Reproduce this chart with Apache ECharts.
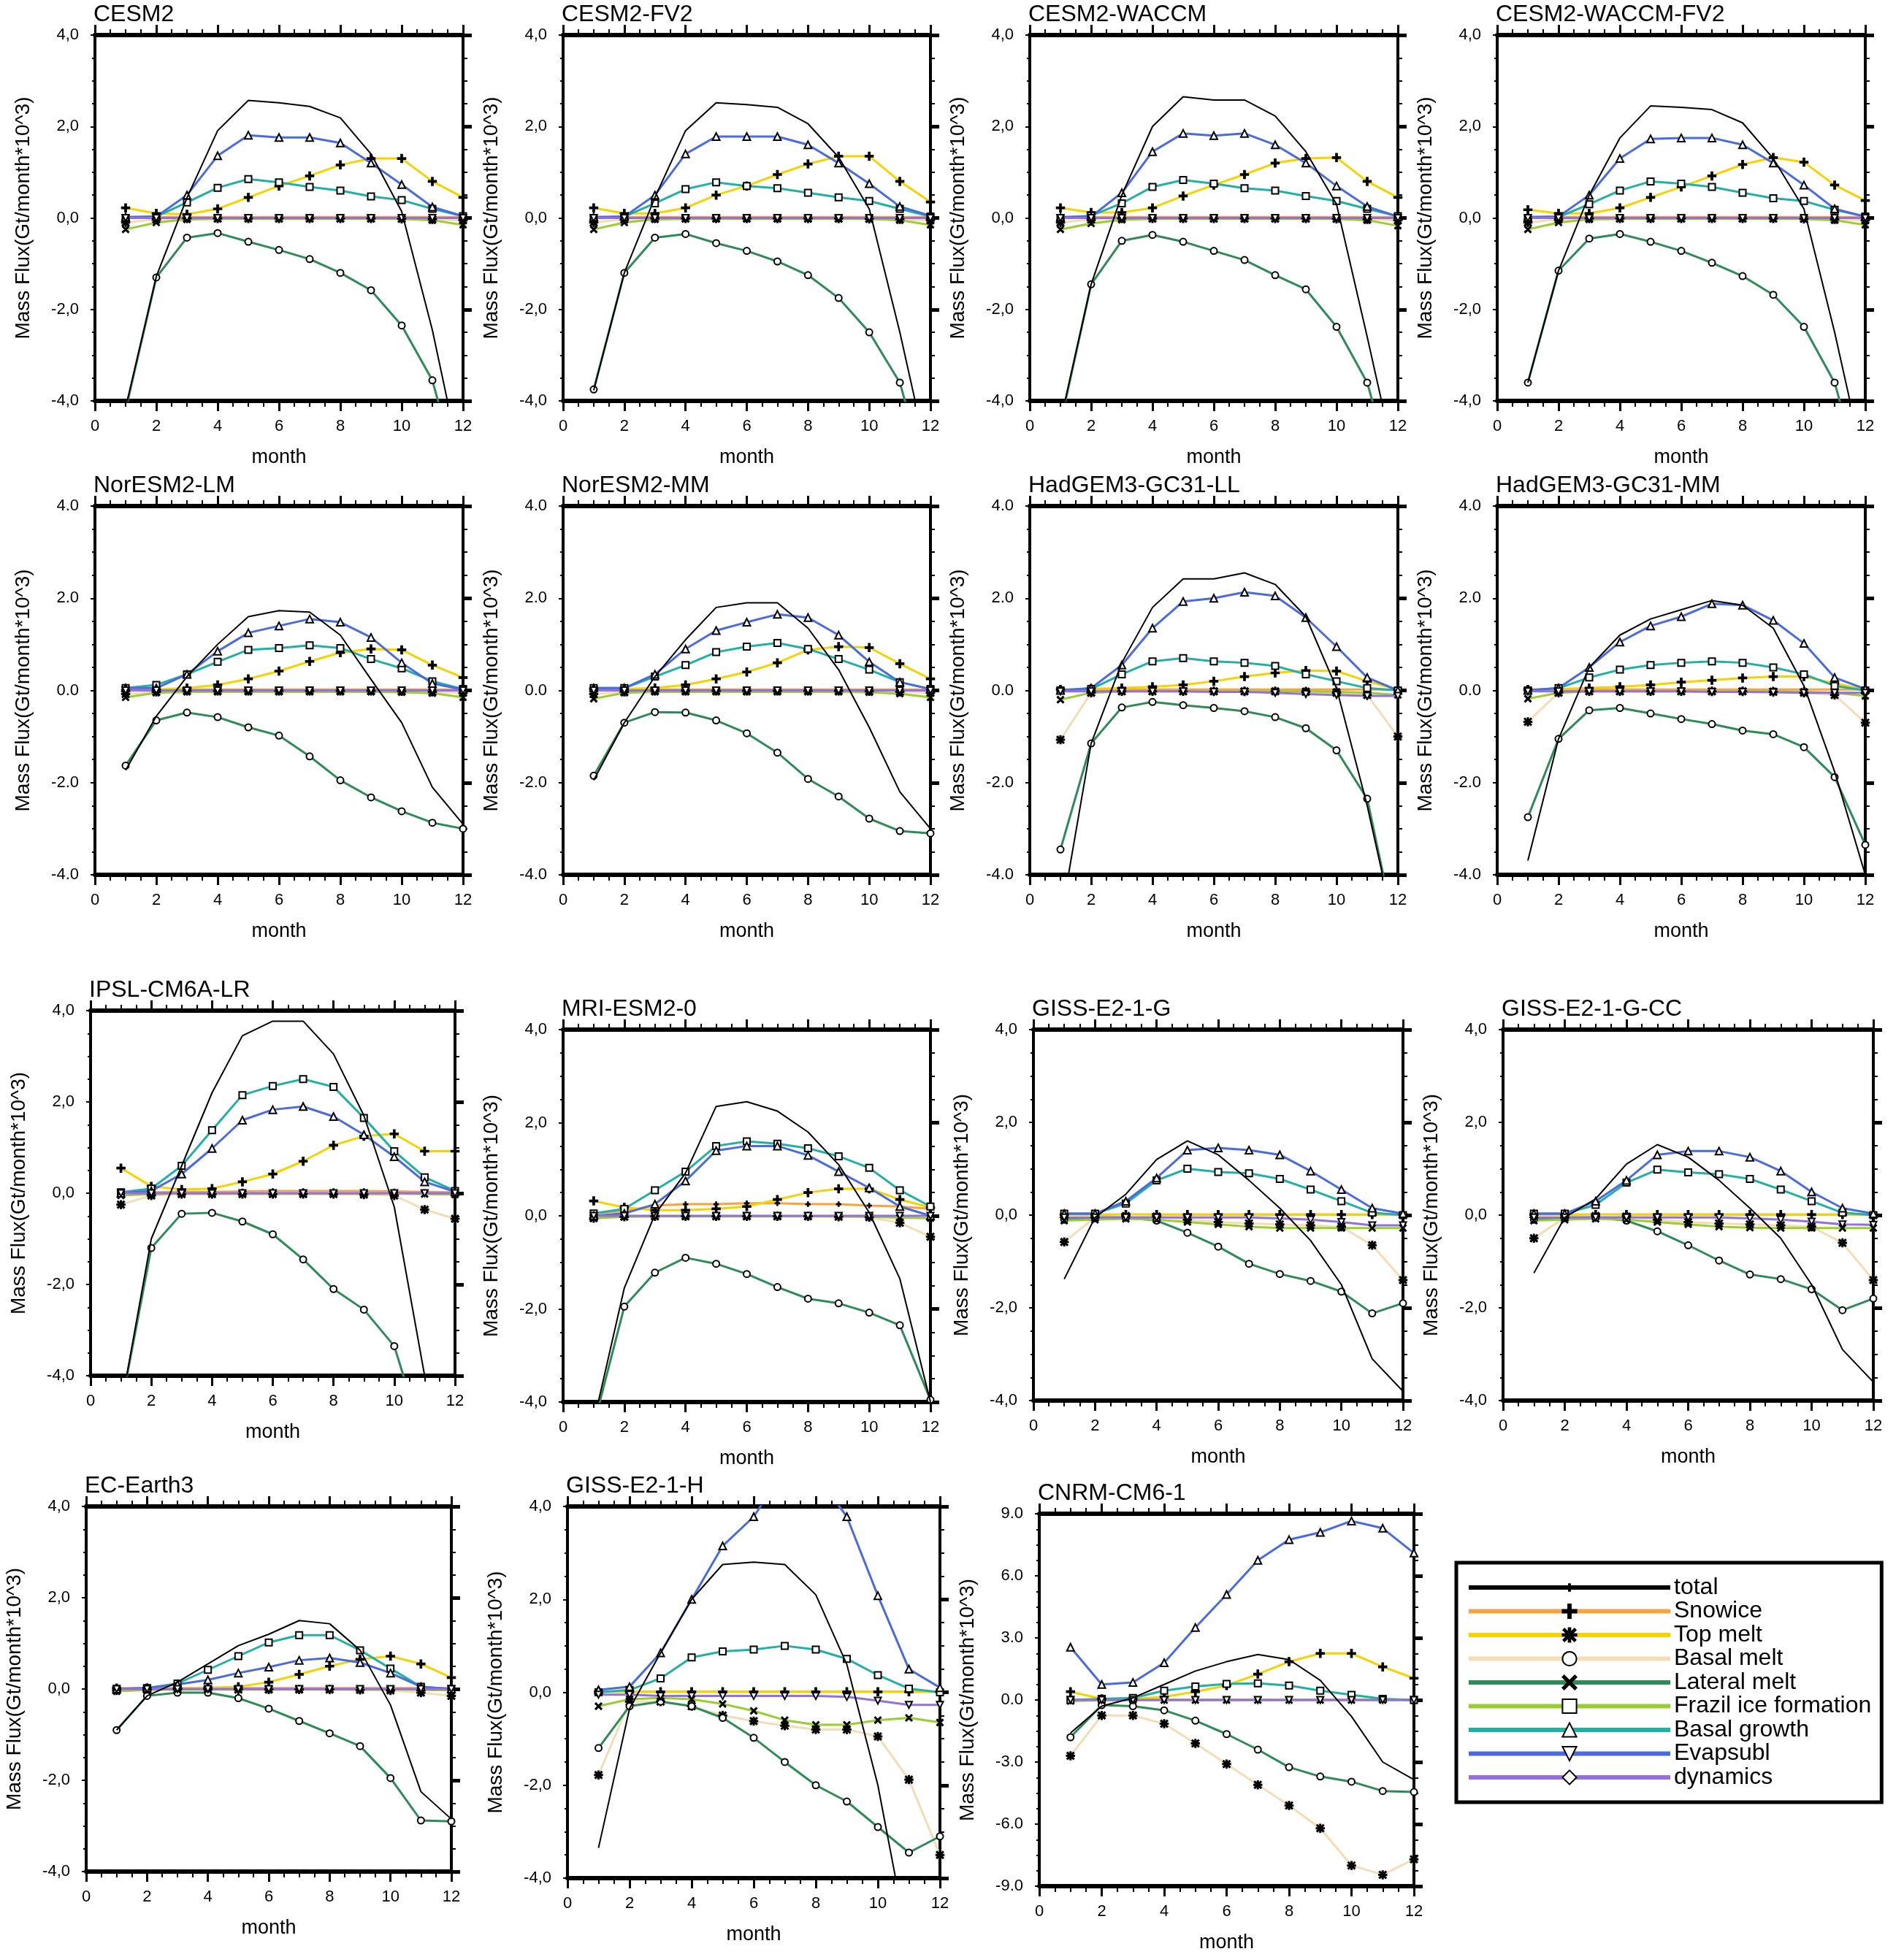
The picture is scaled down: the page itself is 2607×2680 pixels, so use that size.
<!DOCTYPE html>
<html><head><meta charset="utf-8">
<script src="https://cdn.jsdelivr.net/npm/echarts@6/dist/echarts.min.js"></script>
<style>html,body{margin:0;padding:0;background:#fff}#c{width:2607px;height:2680px}</style>
</head><body><div id="c"></div>
<script>
const months = [1,2,3,4,5,6,7,8,9,10,11,12];
const models = ['CESM2','CESM2-FV2','CESM2-WACCM','CESM2-WACCM-FV2','NorESM2-LM','NorESM2-MM','HadGEM3-GC31-LL','HadGEM3-GC31-MM','IPSL-CM6A-LR','MRI-ESM2-0','GISS-E2-1-G','GISS-E2-1-G-CC','EC-Earth3','GISS-E2-1-H','CNRM-CM6-1'];
const seriesNames = ['total','Snowice','Top melt','Basal melt','Lateral melt','Frazil ice formation','Basal growth','Evapsubl','dynamics'];
const yTicksStd = [-4, -2, 0, 2, 4];
const yTicksCnrm = [-9, -6, -3, 0, 3, 6, 9];

const total = [
 [-4.15,-1.28,0.44,1.91,2.57,2.52,2.44,2.19,1.40,0.14,-2.45,-5.6],
 [-3.77,-1.2,0.45,1.91,2.52,2.48,2.42,2.06,1.33,0.2,-2.5,-5.5],
 [-4.45,-1.45,0.5,2.0,2.65,2.58,2.58,2.23,1.45,0.3,-2.6,-5.6],
 [-3.6,-1.15,0.5,1.75,2.45,2.42,2.37,2.08,1.3,0.2,-2.5,-5.5],
 [-1.73,-0.56,0.3,1.0,1.6,1.73,1.7,1.2,0.24,-0.7,-2.1,-2.9],
 [-1.95,-0.7,0.3,1.1,1.8,1.9,1.9,1.35,0.45,-0.8,-2.2,-3.0],
 [-5.0,-1.15,0.6,1.8,2.42,2.42,2.55,2.3,1.6,0.05,-2.5,-5.5],
 [-3.69,-1.05,0.5,1.2,1.55,1.75,1.95,1.85,1.35,0.1,-1.76,-4.0],
 [-4.7,-1.0,0.6,2.2,3.45,3.77,3.77,3.05,1.7,-0.3,-4.0,-7.0],
 [-4.43,-1.55,0.03,0.92,2.35,2.45,2.25,1.8,1.1,0.07,-1.35,-4.0],
 [-1.38,-0.05,0.45,1.2,1.6,1.3,0.75,0.15,-0.55,-1.5,-3.1,-3.8],
 [-1.25,-0.05,0.35,1.1,1.52,1.25,0.75,0.15,-0.5,-1.5,-2.9,-3.6],
 [-0.9,-0.15,0.15,0.55,0.95,1.2,1.5,1.43,0.85,-0.35,-2.25,-2.85],
 [-3.35,-0.35,0.85,2.0,2.75,2.8,2.75,2.1,0.6,-2.0,-5.5,-8.0],
 [-1.6,-0.3,0.1,0.75,1.4,1.85,2.2,1.95,0.95,-0.8,-3.0,-3.85]
];
const snowice = [
 [0.02,0.02,0.02,0.02,0.02,0.02,0.02,0.02,0.02,0.02,0.02,0.02],
 [0.02,0.02,0.02,0.02,0.02,0.02,0.02,0.02,0.02,0.02,0.02,0.02],
 [0.02,0.02,0.02,0.02,0.02,0.02,0.02,0.02,0.02,0.02,0.02,0.02],
 [0.02,0.02,0.02,0.02,0.02,0.02,0.02,0.02,0.02,0.02,0.02,0.02],
 [0.02,0.02,0.02,0.02,0.02,0.02,0.02,0.02,0.02,0.02,0.02,0.02],
 [0.02,0.02,0.02,0.02,0.02,0.02,0.02,0.02,0.02,0.02,0.02,0.02],
 [0.02,0.02,0.02,0.02,0.02,0.02,0.02,0.02,0.02,0.02,0.02,0.02],
 [0.02,0.02,0.02,0.02,0.02,0.02,0.02,0.02,0.02,0.02,0.02,0.02],
 [0.02,0.02,0.03,0.03,0.04,0.05,0.05,0.05,0.05,0.04,0.03,0.02],
 [0.05,0.1,0.22,0.25,0.25,0.27,0.27,0.25,0.25,0.22,0.2,0.15],
 [0.01,0.01,0.01,0.01,0.01,0.01,0.01,0.01,0.01,0.01,0.01,0.01],
 [0.01,0.01,0.01,0.01,0.01,0.01,0.01,0.01,0.01,0.01,0.01,0.01],
 [0.02,0.02,0.02,0.02,0.02,0.02,0.02,0.02,0.02,0.02,0.02,0.02],
 [0.01,0.01,0.01,0.01,0.01,0.01,0.01,0.01,0.01,0.01,0.01,0.01],
 [0.01,0.01,0.01,0.01,0.01,0.01,0.01,0.01,0.01,0.01,0.01,0.01]
];
const topMelt = [
 [0.22,0.1,0.08,0.2,0.45,0.7,0.92,1.16,1.3,1.3,0.8,0.45],
 [0.22,0.1,0.1,0.22,0.5,0.7,0.95,1.18,1.35,1.35,0.8,0.35],
 [0.22,0.12,0.12,0.22,0.48,0.72,0.95,1.2,1.3,1.32,0.8,0.45],
 [0.18,0.1,0.1,0.22,0.45,0.68,0.92,1.17,1.32,1.22,0.72,0.38],
 [0.0,0.02,0.05,0.12,0.25,0.42,0.63,0.82,0.9,0.88,0.55,0.28],
 [0.03,0.03,0.05,0.12,0.25,0.4,0.6,0.88,0.95,0.93,0.58,0.25],
 [0.02,0.03,0.05,0.08,0.12,0.2,0.3,0.38,0.43,0.42,0.2,0.02],
 [0.02,0.03,0.05,0.08,0.12,0.18,0.22,0.27,0.3,0.3,0.15,0.02],
 [0.55,0.15,0.08,0.1,0.25,0.42,0.7,1.05,1.25,1.3,0.92,0.92],
 [0.32,0.18,0.12,0.12,0.15,0.2,0.35,0.5,0.58,0.58,0.35,0.18],
 [0.01,0.01,0.01,0.01,0.01,0.01,0.01,0.01,0.01,0.01,0.01,0.01],
 [0.01,0.01,0.01,0.01,0.01,0.01,0.01,0.01,0.01,0.01,0.01,0.01],
 [0.02,0.02,0.02,0.03,0.05,0.15,0.32,0.5,0.65,0.72,0.55,0.25],
 [0.01,0.01,0.01,0.01,0.01,0.01,0.01,0.01,0.01,0.01,0.01,0.01],
 [0.4,0.05,0.05,0.15,0.4,0.7,1.25,1.85,2.25,2.25,1.6,1.05]
];
const basalMelt = [
 [-0.1,-0.03,-0.01,-0.01,-0.01,-0.01,-0.01,-0.01,-0.01,-0.02,-0.03,-0.05],
 [-0.1,-0.03,-0.01,-0.01,-0.01,-0.01,-0.01,-0.01,-0.01,-0.02,-0.03,-0.05],
 [-0.1,-0.03,-0.01,-0.01,-0.01,-0.01,-0.01,-0.01,-0.01,-0.02,-0.03,-0.05],
 [-0.1,-0.03,-0.01,-0.01,-0.01,-0.01,-0.01,-0.01,-0.01,-0.02,-0.03,-0.05],
 [-0.08,-0.03,-0.01,-0.01,-0.01,-0.01,-0.01,-0.01,-0.01,-0.02,-0.03,-0.05],
 [-0.08,-0.03,-0.01,-0.01,-0.01,-0.01,-0.01,-0.01,-0.01,-0.02,-0.03,-0.05],
 [-1.07,-0.05,-0.02,-0.02,-0.02,-0.02,-0.02,-0.02,-0.03,-0.05,-0.1,-1.0],
 [-0.68,-0.05,-0.02,-0.02,-0.02,-0.02,-0.02,-0.02,-0.03,-0.05,-0.1,-0.7],
 [-0.25,-0.05,-0.02,-0.02,-0.02,-0.02,-0.02,-0.02,-0.03,-0.05,-0.36,-0.56],
 [-0.05,-0.02,-0.01,-0.01,-0.01,-0.01,-0.01,-0.01,-0.02,-0.03,-0.15,-0.45],
 [-0.58,-0.05,-0.02,-0.03,-0.1,-0.15,-0.18,-0.2,-0.22,-0.25,-0.65,-1.4],
 [-0.5,-0.05,-0.02,-0.03,-0.1,-0.15,-0.18,-0.2,-0.22,-0.25,-0.6,-1.4],
 [-0.03,-0.02,-0.01,-0.01,-0.01,-0.01,-0.01,-0.01,-0.02,-0.03,-0.08,-0.15],
 [-1.78,-0.2,-0.2,-0.3,-0.5,-0.62,-0.72,-0.8,-0.8,-0.95,-1.88,-3.5],
 [-2.7,-0.75,-0.75,-1.15,-2.1,-3.1,-4.1,-5.1,-6.2,-8.0,-8.45,-7.7]
];
const lateralMelt = [
 [-4.2,-1.3,-0.43,-0.33,-0.52,-0.7,-0.9,-1.2,-1.58,-2.35,-3.55,-6.0],
 [-3.75,-1.2,-0.43,-0.35,-0.55,-0.72,-0.95,-1.25,-1.75,-2.5,-3.6,-6.0],
 [-4.5,-1.45,-0.5,-0.37,-0.52,-0.72,-0.92,-1.25,-1.56,-2.38,-3.6,-6.0],
 [-3.6,-1.15,-0.45,-0.35,-0.52,-0.72,-0.98,-1.27,-1.68,-2.38,-3.6,-6.0],
 [-1.63,-0.65,-0.48,-0.58,-0.8,-0.98,-1.43,-1.95,-2.32,-2.62,-2.87,-3.0],
 [-1.85,-0.7,-0.47,-0.48,-0.65,-0.93,-1.35,-1.92,-2.3,-2.78,-3.05,-3.1],
 [-3.45,-1.15,-0.37,-0.25,-0.32,-0.38,-0.45,-0.58,-0.82,-1.3,-2.35,-5.5],
 [-2.75,-1.05,-0.43,-0.38,-0.5,-0.62,-0.73,-0.87,-0.95,-1.23,-1.88,-3.35],
 [-4.7,-1.2,-0.45,-0.43,-0.62,-0.9,-1.45,-2.1,-2.55,-3.35,-5.5,-8.0],
 [-4.5,-1.95,-1.22,-0.9,-1.03,-1.25,-1.53,-1.78,-1.88,-2.08,-2.35,-3.95],
 [-0.1,-0.05,-0.05,-0.12,-0.38,-0.68,-1.05,-1.27,-1.42,-1.65,-2.12,-1.9],
 [-0.1,-0.05,-0.05,-0.12,-0.35,-0.65,-0.98,-1.28,-1.38,-1.6,-2.05,-1.8],
 [-0.9,-0.15,-0.08,-0.08,-0.2,-0.43,-0.7,-0.97,-1.25,-1.95,-2.88,-2.9],
 [-1.2,-0.3,-0.2,-0.3,-0.55,-0.98,-1.5,-2.0,-2.35,-2.9,-3.45,-3.1],
 [-1.8,-0.25,-0.3,-0.5,-1.0,-1.65,-2.4,-3.25,-3.7,-3.95,-4.4,-4.45]
];
const frazil = [
 [-0.25,-0.1,-0.03,-0.02,-0.02,-0.02,-0.02,-0.02,-0.02,-0.02,-0.05,-0.15],
 [-0.25,-0.1,-0.03,-0.02,-0.02,-0.02,-0.02,-0.02,-0.02,-0.02,-0.05,-0.15],
 [-0.25,-0.12,-0.04,-0.02,-0.02,-0.02,-0.02,-0.02,-0.02,-0.02,-0.05,-0.17],
 [-0.25,-0.1,-0.03,-0.02,-0.02,-0.02,-0.02,-0.02,-0.02,-0.02,-0.05,-0.15],
 [-0.15,-0.05,-0.03,-0.03,-0.03,-0.03,-0.03,-0.03,-0.03,-0.04,-0.06,-0.15],
 [-0.18,-0.05,-0.03,-0.03,-0.03,-0.03,-0.03,-0.03,-0.03,-0.04,-0.07,-0.15],
 [-0.2,-0.05,-0.02,-0.02,-0.02,-0.02,-0.02,-0.02,-0.02,-0.03,-0.05,-0.1],
 [-0.18,-0.05,-0.02,-0.02,-0.02,-0.02,-0.02,-0.02,-0.02,-0.03,-0.05,-0.12],
 [-0.05,-0.02,-0.01,-0.01,-0.01,-0.01,-0.01,-0.01,-0.01,-0.01,-0.02,-0.03],
 [-0.05,-0.02,-0.01,-0.01,-0.01,-0.01,-0.01,-0.01,-0.01,-0.02,-0.04,-0.05],
 [-0.12,-0.1,-0.08,-0.1,-0.15,-0.2,-0.25,-0.28,-0.28,-0.28,-0.28,-0.28],
 [-0.12,-0.1,-0.08,-0.1,-0.15,-0.2,-0.25,-0.27,-0.28,-0.28,-0.28,-0.28],
 [-0.05,-0.02,-0.01,-0.01,-0.01,-0.01,-0.01,-0.01,-0.01,-0.01,-0.02,-0.03],
 [-0.3,-0.15,-0.12,-0.15,-0.25,-0.4,-0.6,-0.7,-0.7,-0.6,-0.55,-0.65],
 [-0.05,-0.02,-0.01,-0.01,-0.01,-0.01,-0.01,-0.01,-0.01,-0.01,-0.01,-0.02]
];
const basalGrowth = [
 [0.0,0.03,0.34,0.66,0.85,0.78,0.68,0.6,0.47,0.39,0.2,0.04],
 [0.0,0.03,0.32,0.63,0.78,0.7,0.65,0.55,0.45,0.37,0.2,0.03],
 [0.0,0.05,0.32,0.68,0.83,0.75,0.65,0.6,0.48,0.37,0.2,0.04],
 [0.0,0.02,0.3,0.6,0.8,0.75,0.68,0.55,0.43,0.37,0.18,0.03],
 [0.05,0.12,0.35,0.62,0.88,0.92,0.98,0.92,0.68,0.48,0.2,0.03],
 [0.05,0.05,0.3,0.55,0.83,0.95,1.03,0.9,0.68,0.45,0.18,0.03],
 [0.0,0.03,0.35,0.63,0.7,0.63,0.6,0.53,0.35,0.2,0.05,0.0],
 [0.0,0.05,0.28,0.45,0.55,0.6,0.63,0.6,0.5,0.35,0.1,0.0],
 [0.02,0.1,0.6,1.38,2.15,2.35,2.5,2.33,1.65,0.92,0.35,0.05],
 [0.05,0.15,0.55,0.95,1.5,1.6,1.55,1.45,1.28,1.03,0.55,0.2],
 [0.03,0.03,0.25,0.75,1.0,0.93,0.9,0.78,0.55,0.3,0.05,0.0],
 [0.03,0.03,0.22,0.7,0.98,0.92,0.88,0.78,0.55,0.3,0.05,0.0],
 [0.0,0.02,0.12,0.42,0.72,1.02,1.18,1.18,0.85,0.45,0.05,0.0],
 [0.0,0.05,0.3,0.75,0.88,0.92,1.0,0.92,0.72,0.37,0.08,0.0],
 [0.0,0.05,0.1,0.45,0.65,0.78,0.8,0.7,0.45,0.25,0.05,0.0]
];
const evapsubl = [
 [0.02,0.03,0.5,1.36,1.81,1.76,1.76,1.64,1.2,0.73,0.24,0.04],
 [0.02,0.03,0.5,1.4,1.78,1.78,1.78,1.6,1.2,0.75,0.25,0.05],
 [0.02,0.03,0.55,1.45,1.85,1.8,1.85,1.6,1.2,0.7,0.25,0.03],
 [0.02,0.03,0.5,1.3,1.73,1.75,1.75,1.6,1.2,0.72,0.2,0.03],
 [0.05,0.05,0.35,0.85,1.25,1.4,1.55,1.48,1.15,0.6,0.15,0.02],
 [0.05,0.05,0.35,0.9,1.3,1.48,1.65,1.58,1.2,0.62,0.18,0.03],
 [0.0,0.05,0.55,1.35,1.93,2.0,2.13,2.05,1.58,0.95,0.28,0.0],
 [0.0,0.05,0.5,1.05,1.4,1.6,1.88,1.85,1.52,1.02,0.28,0.03],
 [0.0,0.05,0.42,0.98,1.6,1.83,1.9,1.68,1.28,0.8,0.25,0.03],
 [0.0,0.05,0.25,0.75,1.4,1.5,1.5,1.3,0.95,0.6,0.2,0.0],
 [0.03,0.03,0.3,0.8,1.4,1.45,1.4,1.3,0.95,0.55,0.15,0.03],
 [0.03,0.03,0.3,0.75,1.3,1.38,1.38,1.25,0.95,0.5,0.15,0.03],
 [0.0,0.02,0.1,0.2,0.35,0.48,0.63,0.68,0.58,0.35,0.05,0.0],
 [0.05,0.12,0.85,2.0,3.15,3.78,4.8,4.7,3.78,2.08,0.5,0.1],
 [2.55,0.75,0.85,1.8,3.5,5.1,6.75,7.75,8.1,8.65,8.3,7.1]
];
const dynamics = [
 [0,0,0,0,0,0,0,0,0,0,0,0],
 [0,0,0,0,0,0,0,0,0,0,0,0],
 [0,0,0,0,0,0,0,0,0,0,0,0],
 [0,0,0,0,0,0,0,0,0,0,0,0],
 [0,0,0,0,0,0,0,0,0,0,0,0],
 [0,0,0,0,0,0,0,0,0,0,0,0],
 [-0.02,-0.02,-0.02,-0.02,-0.02,-0.03,-0.03,-0.05,-0.08,-0.1,-0.12,-0.12],
 [-0.02,-0.02,-0.02,-0.02,-0.02,-0.02,-0.03,-0.03,-0.04,-0.05,-0.05,-0.05],
 [0,0,0,0,0,0,0,0,0,0,0,0],
 [0,0,0,0,0,0,0,0,0,0,0,0],
 [-0.05,-0.05,-0.05,-0.05,-0.05,-0.05,-0.05,-0.07,-0.1,-0.15,-0.22,-0.22],
 [-0.05,-0.05,-0.05,-0.05,-0.05,-0.05,-0.05,-0.07,-0.1,-0.14,-0.2,-0.21],
 [0,0,0,0,0,0,0,0,0,0,0,0],
 [-0.05,-0.05,-0.08,-0.08,-0.08,-0.08,-0.08,-0.08,-0.1,-0.18,-0.27,-0.27],
 [0,0,0,0,0,0,0,0,0,0,0,0]
];
const seriesData = [total, snowice, topMelt, basalMelt, lateralMelt, frazil, basalGrowth, evapsubl, dynamics];

// ---- layout / style (not data) ----
const layout = [
 [130,48,504,501],[771,48,503,501],[1410,48,504,501],[2050,48,504,501],
 [130,693,504,505],[771,693,503,505],[1410,693,504,505],[2050,693,504,505],
 [124,1384,499,500],[771,1410,503,510],[1415,1410,506,508],[2058,1410,507,508],
 [118,2063,500,500],[777,2063,510,509],[1423,2073,513,510]
];
const commaDecimal = [1,1,1,1,0,0,0,0,1,1,1,1,1,1,0];
const colors = ['#000000','#F7A440','#F5D300','#F3DDB5','#2E8B57','#9ACD32','#22B0A6','#4A6BDE','#9370DB'];
const lineWidths = [2,3,3,3,3,3,3,3,3];
const FONT = 'Liberation Sans, Arial, sans-serif';
const PLUS = 'path://M4,0H6V4H10V6H6V10H4V6H0V4H4Z';
const SMALLPLUS = 'path://M-5,-5 M15,15 M4,0H6V4H10V6H6V10H4V6H0V4H4Z';
const ASTER = 'path://M4.3,0H5.7V10H4.3Z M0,4.3H10V5.7H0Z M1.5,0.5L9.5,8.5L8.5,9.5L0.5,1.5Z M8.5,0.5L9.5,1.5L1.5,9.5L0.5,8.5Z';
const CROSS = 'path://M1.2,0L10,8.8L8.8,10L0,1.2Z M8.8,0L10,1.2L1.2,10L0,8.8Z';
const plotSym = ['none', PLUS, PLUS, ASTER, 'emptyCircle', CROSS, 'emptyRect', 'emptyTriangle', 'emptyTriangle'];
const plotSize = [0, 6, 11, 11, 9, 9, 9, 10, 9];
const plotRot = [0,0,0,0,0,0,0,0,180];
const legSym = [SMALLPLUS, PLUS, ASTER, 'emptyCircle', CROSS, 'emptyRect', 'emptyTriangle', 'emptyTriangle', 'emptyDiamond'];
const legRot = [0,0,0,0,0,0,0,180,0];

const grids = [], xAxes = [], yAxes = [], titles = [], series = [];

function fmt(i){ return function(v){ let s = (Math.round(v*10)/10).toFixed(1); return commaDecimal[i] ? s.replace('.', ',') : s; }; }

models.forEach((m, i) => {
  const L = layout[i];
  grids.push({left:L[0], top:L[1], width:L[2], height:L[3], containLabel:false});
  titles.push({text:m, left:L[0]-2, top:L[1]-44, padding:0,
    textStyle:{fontSize:32, fontWeight:'normal', fontFamily:FONT, color:'#000'}});
  const cn = m === 'CNRM-CM6-1';
  const yt = cn ? yTicksCnrm : yTicksStd;
  const yMin = yt[0], yMax = yt[yt.length-1], yInt = yt[1]-yt[0];
  const xCommon = {gridIndex:i, type:'value', min:0, max:12, interval:2,
    axisLine:{show:true, onZero:false, lineStyle:{color:'#000', width:6}},
    axisTick:{show:true, inside:false, length:14, lineStyle:{color:'#000', width:3}},
    minorTick:{show:true, splitNumber:4, length:8, lineStyle:{color:'#000', width:2}},
    splitLine:{show:false}, minorSplitLine:{show:false}};
  xAxes.push(Object.assign({}, xCommon, {position:'bottom',
    axisLabel:{margin:24, fontSize:22, color:'#000', fontFamily:FONT},
    name:'month', nameLocation:'middle', nameGap:64,
    nameTextStyle:{fontSize:27, color:'#000', fontFamily:FONT}}));
  xAxes.push(Object.assign({}, xCommon, {position:'top', axisLabel:{show:false}}));
  const yCommon = {gridIndex:i, type:'value', min:yMin, max:yMax, interval:yInt,
    splitLine:{show:false}, minorSplitLine:{show:false}};
  yAxes.push(Object.assign({}, yCommon, {position:'left',
    axisLine:{show:true, onZero:false, lineStyle:{color:'#000', width:4}},
    axisTick:{show:true, inside:false, length:6, lineStyle:{color:'#000', width:2}},
    minorTick:{show:true, splitNumber:4, length:4, lineStyle:{color:'#000', width:2}},
    axisLabel:{margin:22, fontSize:22, color:'#000', fontFamily:FONT, formatter:fmt(i)},
    name:'Mass Flux(Gt/month*10^3)', nameLocation:'middle', nameRotate:90, nameGap:84,
    nameTextStyle:{fontSize:28, color:'#000', fontFamily:FONT}}));
  yAxes.push(Object.assign({}, yCommon, {position:'right',
    axisLine:{show:true, onZero:false, lineStyle:{color:'#000', width:4}},
    axisTick:{show:true, inside:false, length:12, lineStyle:{color:'#000', width:5}},
    minorTick:{show:true, splitNumber:4, length:6, lineStyle:{color:'#000', width:2}},
    axisLabel:{show:false}}));
});

// legend icon carriers (no data)
seriesNames.forEach((n, s) => {
  series.push({type:'line', name:n, xAxisIndex:0, yAxisIndex:0, data:[],
    symbol:legSym[s], symbolRotate:legRot[s], symbolSize:10,
    lineStyle:{color:colors[s], width:6}, itemStyle:{color:'#000', borderColor:'#000', borderWidth:2}});
});

models.forEach((m, i) => {
  seriesNames.forEach((n, s) => {
    series.push({type:'line', name:n, xAxisIndex:2*i, yAxisIndex:2*i, clip:true,
      data: months.map((mo, k) => [mo, seriesData[s][i][k]]),
      symbol:plotSym[s], symbolSize:plotSize[s], symbolRotate:plotRot[s],
      showSymbol: s !== 0,
      lineStyle:{color:colors[s], width:lineWidths[s]},
      itemStyle:{color:'#000', borderColor:'#000', borderWidth:1.5},
      z: s === 0 ? 4 : 2,
      emphasis:{disabled:true}, silent:true});
  });
});

const chart = echarts.init(document.getElementById('c'), null, {renderer:'canvas'});
chart.setOption({
  backgroundColor:'#fff',
  animation:false,
  title:titles,
  grid:grids, xAxis:xAxes, yAxis:yAxes,
  legend:{data:seriesNames, orient:'vertical', left:1994, top:2140,
    itemWidth:276, itemHeight:24, itemGap:0.5, padding:[18,14,18,14],
    borderColor:'#000', borderWidth:5, backgroundColor:'#fff',
    selectedMode:false,
    lineStyle:{width:6},
    textStyle:{fontSize:32, color:'#000', fontFamily:FONT}},
  series:series
});
</script></body></html>
